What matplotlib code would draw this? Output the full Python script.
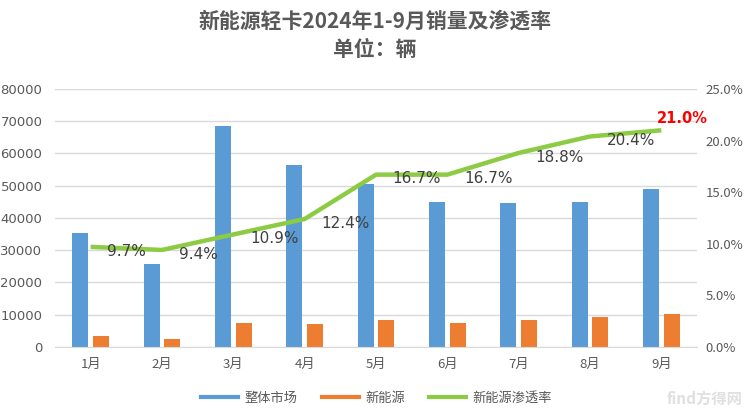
import matplotlib
matplotlib.use("Agg")
import matplotlib.pyplot as plt
import numpy as np
from matplotlib.lines import Line2D
from matplotlib.ticker import FuncFormatter

plt.rcParams['font.family'] = ['Noto Sans CJK SC', 'DejaVu Sans']

months = ['1月', '2月', '3月', '4月', '5月', '6月', '7月', '8月', '9月']
total = [35400, 25800, 68600, 56500, 50600, 45000, 44800, 45100, 49000]
nev = [3430, 2420, 7480, 7000, 8450, 7500, 8420, 9200, 10290]
rate = [9.7, 9.4, 10.9, 12.4, 16.7, 16.7, 18.8, 20.4, 21.0]
left_ticks = [0, 10000, 20000, 30000, 40000, 50000, 60000, 70000, 80000]
right_ticks = [0, 5, 10, 15, 20, 25]

BLUE = '#5B9BD5'
ORANGE = '#ED7D31'
GREEN = '#8DCB45'
GRAY = '#595959'

fig = plt.figure(figsize=(7.5, 4.15), dpi=100)
ax = fig.add_axes([0.0733, 0.164, 0.856, 0.6215])
x = np.arange(len(months))
w = 0.225
ax.bar(x - 0.145, total, width=w, color=BLUE, zorder=2)
ax.bar(x + 0.145, nev, width=w, color=ORANGE, zorder=2)
ax.set_xlim(-0.5, 8.5)
ax.set_ylim(0, 80000)
ax.set_yticks(left_ticks)
ax.set_xticks(x)
ax.set_xticklabels(months)
ax.grid(axis='y', color='#D9D9D9', linewidth=1, zorder=0)
for s in ['top', 'right', 'left']:
    ax.spines[s].set_visible(False)
ax.spines['bottom'].set_color('#D9D9D9')
ax.tick_params(axis='both', length=0, colors=GRAY)
ax.tick_params(axis='x', pad=8, labelsize=9.5)
ax.tick_params(axis='y', pad=9, labelsize=9.5)
for lbl in ax.get_yticklabels():
    lbl.set_family('DejaVu Sans')

ax2 = ax.twinx()
ax2.set_ylim(0, 25)
ax2.set_yticks(right_ticks)
ax2.yaxis.set_major_formatter(FuncFormatter(lambda v, p: f'{v:.1f}%'))
for s in ['top', 'right', 'left', 'bottom']:
    ax2.spines[s].set_visible(False)
ax2.tick_params(axis='y', length=0, colors=GRAY, labelsize=9.5, pad=6)
ax2.plot(x, rate, color=GREEN, linewidth=3.2, solid_capstyle='butt', zorder=3)

for i, r in enumerate(rate):
    if i == len(rate) - 1:
        ax2.annotate(f'{r:.1f}%', (x[i], r), xytext=(-3, 3), textcoords='offset points',
                     ha='left', va='bottom', fontsize=10.5, color='#FF0000', fontweight='bold',
                     family='DejaVu Sans')
    else:
        ax2.annotate(f'{r:.1f}%', (x[i], r), xytext=(12, -3), textcoords='offset points',
                     ha='left', va='center', fontsize=11, color='#404040',
                     family='DejaVu Sans')

fig.text(0.5, 0.95, '新能源轻卡2024年1-9月销量及渗透率', ha='center', va='center',
         fontsize=15, fontweight='bold', color=GRAY)
fig.text(0.5, 0.88, '单位：辆', ha='center', va='center',
         fontsize=15, fontweight='bold', color=GRAY)

handles = [Line2D([], [], color=BLUE, linewidth=3),
           Line2D([], [], color=ORANGE, linewidth=3),
           Line2D([], [], color=GREEN, linewidth=3)]
fig.legend(handles, ['整体市场', '新能源', '新能源渗透率'], loc='center',
           bbox_to_anchor=(0.502, 0.04), ncol=3, frameon=False, fontsize=9.5,
           labelcolor=GRAY, handlelength=2.8, columnspacing=1.8, handletextpad=0.5)

fig.text(0.99, 0.02, 'find方得网', ha='right', va='bottom', fontsize=11,
         color='#E0E0E0', fontweight='bold')

fig.savefig('out.png', dpi=100)
